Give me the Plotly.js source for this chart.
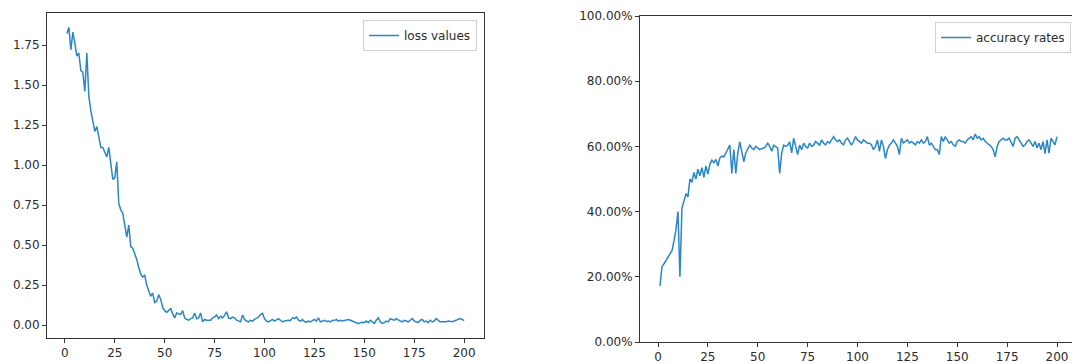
<!DOCTYPE html>
<html>
<head>
<meta charset="utf-8">
<script src="https://cdn.plot.ly/plotly-3.0.1.min.js"></script>
<style>html,body{margin:0;padding:0;background:#fff;}#chart{width:1072px;height:363px;}</style>
</head>
<body>
<div id="chart"></div>
<script>
// ---- data ----
const epochs = Array.from({length: 200}, (_, k) => k + 1);

const lossValues = [
  1.82, 1.86, 1.72, 1.83, 1.76, 1.68, 1.70, 1.59, 1.58, 1.46,
  1.70, 1.43, 1.34, 1.28, 1.21, 1.24, 1.16, 1.11, 1.11, 1.08,
  1.05, 1.11, 0.99, 0.91, 0.92, 1.02, 0.76, 0.72, 0.70, 0.61,
  0.55, 0.625, 0.49, 0.48, 0.45, 0.41, 0.36, 0.32, 0.30, 0.31,
  0.25, 0.22, 0.18, 0.20, 0.14, 0.15, 0.19, 0.16, 0.11, 0.09,
  0.08, 0.09, 0.105, 0.07, 0.045, 0.075, 0.07, 0.065, 0.09, 0.045,
  0.035, 0.03, 0.04, 0.045, 0.075, 0.04, 0.045, 0.075, 0.02, 0.035,
  0.03, 0.028, 0.03, 0.045, 0.05, 0.063, 0.04, 0.055, 0.045, 0.06,
  0.083, 0.045, 0.04, 0.05, 0.045, 0.03, 0.025, 0.02, 0.063, 0.035,
  0.025, 0.02, 0.03, 0.025, 0.035, 0.04, 0.05, 0.065, 0.073, 0.04,
  0.025, 0.02, 0.03, 0.035, 0.025, 0.03, 0.04, 0.03, 0.02, 0.025,
  0.03, 0.03, 0.028, 0.045, 0.04, 0.05, 0.03, 0.025, 0.035, 0.022,
  0.018, 0.025, 0.02, 0.03, 0.035, 0.025, 0.045, 0.02, 0.025, 0.03,
  0.022, 0.025, 0.02, 0.03, 0.028, 0.035, 0.025, 0.03, 0.025, 0.028,
  0.03, 0.035, 0.03, 0.025, 0.02, 0.01, 0.008, 0.015, 0.018, 0.015,
  0.025, 0.015, 0.03, 0.02, 0.01, 0.03, 0.045, 0.02, 0.01, 0.015,
  0.025, 0.02, 0.04, 0.035, 0.03, 0.04, 0.03, 0.025, 0.02, 0.03,
  0.025, 0.02, 0.03, 0.04, 0.025, 0.02, 0.015, 0.03, 0.035, 0.02,
  0.025, 0.015, 0.03, 0.02, 0.025, 0.04, 0.03, 0.02, 0.02, 0.02,
  0.02, 0.025, 0.02, 0.02, 0.025, 0.03, 0.035, 0.04, 0.035, 0.027
];

const accuracyRates = [
  0.172, 0.231, 0.24, 0.25, 0.26, 0.27, 0.28, 0.31, 0.345, 0.40,
  0.20, 0.41, 0.43, 0.455, 0.445, 0.50, 0.49, 0.52, 0.50, 0.53,
  0.51, 0.535, 0.505, 0.54, 0.515, 0.545, 0.558, 0.55, 0.56, 0.54,
  0.565, 0.57, 0.568, 0.58, 0.59, 0.604, 0.517, 0.59, 0.517, 0.58,
  0.614, 0.58, 0.553, 0.58, 0.59, 0.604, 0.595, 0.59, 0.60, 0.595,
  0.59, 0.593, 0.595, 0.60, 0.61, 0.60, 0.585, 0.604, 0.60, 0.595,
  0.517, 0.58, 0.604, 0.60, 0.604, 0.614, 0.58, 0.625, 0.60, 0.575,
  0.604, 0.59, 0.61, 0.60, 0.595, 0.61, 0.60, 0.604, 0.615, 0.61,
  0.604, 0.62, 0.61, 0.605, 0.615, 0.61, 0.62, 0.63, 0.62, 0.615,
  0.62, 0.61, 0.605, 0.62, 0.625, 0.614, 0.604, 0.615, 0.63, 0.62,
  0.615, 0.61, 0.62, 0.615, 0.61, 0.61, 0.605, 0.59, 0.60, 0.62,
  0.585, 0.62, 0.60, 0.563, 0.59, 0.604, 0.61, 0.62, 0.61, 0.60,
  0.575, 0.625, 0.61, 0.615, 0.62, 0.61, 0.615, 0.61, 0.605, 0.615,
  0.61, 0.62, 0.61, 0.615, 0.63, 0.604, 0.61, 0.60, 0.59, 0.59,
  0.575, 0.63, 0.615, 0.63, 0.62, 0.61, 0.615, 0.605, 0.60, 0.615,
  0.62, 0.615, 0.615, 0.61, 0.62, 0.625, 0.63, 0.62, 0.638, 0.625,
  0.63, 0.62, 0.625, 0.615, 0.61, 0.605, 0.60, 0.59, 0.568, 0.60,
  0.615, 0.62, 0.625, 0.62, 0.62, 0.625, 0.61, 0.60, 0.625, 0.63,
  0.62, 0.61, 0.60, 0.605, 0.615, 0.62, 0.61, 0.60, 0.615, 0.595,
  0.61, 0.59, 0.615, 0.578, 0.62, 0.579, 0.625, 0.615, 0.605, 0.63
];

const xTicks = [0, 25, 50, 75, 100, 125, 150, 175, 200];
const lossTicks = [0, 0.25, 0.5, 0.75, 1.0, 1.25, 1.5, 1.75];
const accTicks = [0, 0.2, 0.4, 0.6, 0.8, 1.0];

// ---- chart ----
const W = 1072, H = 363;
const lineColor = '#2a86c4';
const font = {family: 'DejaVu Sans, sans-serif', size: 12, color: '#2b2b2b'};

const axisBase = {
  showline: true, linecolor: '#333', linewidth: 1, mirror: true,
  ticks: 'outside', ticklen: 4, tickwidth: 1, tickcolor: '#333',
  showgrid: false, zeroline: false, tickfont: font, fixedrange: true
};

const traces = [
  {x: epochs, y: lossValues, type: 'scatter', mode: 'lines', name: 'loss values',
   line: {color: lineColor, width: 1.5}, xaxis: 'x', yaxis: 'y', legend: 'legend'},
  {x: epochs, y: accuracyRates, type: 'scatter', mode: 'lines', name: 'accuracy rates',
   line: {color: lineColor, width: 1.5}, xaxis: 'x2', yaxis: 'y2', legend: 'legend2'}
];

const legendBase = {
  bgcolor: 'rgba(255,255,255,0.9)', bordercolor: '#d0d0d0', borderwidth: 1,
  font: font, xanchor: 'right', yanchor: 'top', itemwidth: 30
};

const layout = {
  width: W, height: H,
  margin: {l: 0, r: 0, t: 0, b: 0, pad: 0},
  paper_bgcolor: '#fff', plot_bgcolor: '#fff',
  font: font,
  showlegend: true,
  xaxis: Object.assign({}, axisBase, {
    domain: [47 / W, 484 / W], range: [-8.95, 209.95],
    tickmode: 'array', tickvals: xTicks, ticktext: xTicks.map(String), anchor: 'y'
  }),
  yaxis: Object.assign({}, axisBase, {
    domain: [1 - 338 / H, 1 - 13 / H], range: [-0.081, 1.95],
    tickmode: 'array', tickvals: lossTicks, ticktext: lossTicks.map(v => v.toFixed(2)), anchor: 'x'
  }),
  xaxis2: Object.assign({}, axisBase, {
    domain: [640 / W, 1], range: [(640 - 658) / 1.995, (1072 - 658) / 1.995],
    tickmode: 'array', tickvals: xTicks, ticktext: xTicks.map(String), anchor: 'y2'
  }),
  yaxis2: Object.assign({}, axisBase, {
    domain: [1 - 342 / H, 1 - 16 / H], range: [0, 1],
    tickmode: 'array', tickvals: accTicks, ticktext: accTicks.map(v => (v * 100).toFixed(2) + '%'), anchor: 'x2'
  }),
  legend: Object.assign({}, legendBase, {x: 477 / W, y: 1 - 20 / H}),
  legend2: Object.assign({}, legendBase, {x: 1071 / W, y: 1 - 22 / H})
};

Plotly.newPlot('chart', traces, layout, {displayModeBar: false, staticPlot: true});
</script>
</body>
</html>
